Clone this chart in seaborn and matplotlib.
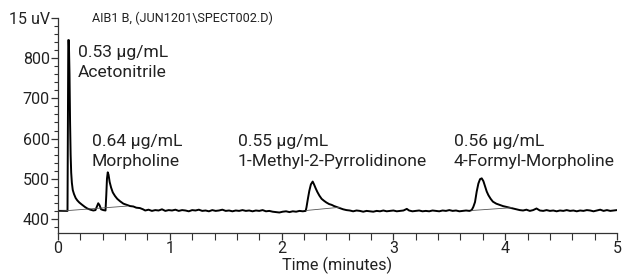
import matplotlib
matplotlib.use("Agg")
import matplotlib.pyplot as plt
from matplotlib.ticker import MultipleLocator
import pandas as pd
import seaborn as sns

# trace of the detector signal
time = [0.00, 0.04, 0.085, 0.088, 0.092, 0.097, 0.103, 0.108, 0.113, 0.118, 0.124, 0.132, 0.143, 0.158, 0.173,
        0.19, 0.212, 0.24, 0.262, 0.29, 0.316, 0.335, 0.35, 0.36, 0.372, 0.385, 0.405, 0.425, 0.432, 0.438,
        0.445, 0.452, 0.462, 0.475, 0.49, 0.51, 0.53, 0.555, 0.585, 0.614, 0.645, 0.674, 0.70, 0.733, 0.76,
        0.78, 0.81, 0.84, 0.87, 0.90, 0.93, 0.96, 0.99, 1.02, 1.05, 1.08, 1.11, 1.14, 1.17, 1.20, 1.23, 1.26,
        1.29, 1.32, 1.35, 1.38, 1.41, 1.44, 1.47, 1.50, 1.53, 1.56, 1.59, 1.62, 1.65, 1.68, 1.71, 1.74, 1.77,
        1.80, 1.83, 1.86, 1.89, 1.92, 1.95, 1.98, 2.01, 2.04, 2.07, 2.10, 2.13, 2.16, 2.19, 2.215,
        2.222, 2.235, 2.248, 2.262, 2.278, 2.29, 2.305, 2.32, 2.338, 2.358, 2.38, 2.40, 2.425, 2.448, 2.47,
        2.49, 2.52, 2.55, 2.58,
        2.61, 2.64, 2.67, 2.70, 2.73, 2.76, 2.79, 2.82, 2.85, 2.88, 2.91, 2.94, 2.97, 3.00, 3.03, 3.06, 3.09,
        3.12, 3.14, 3.17, 3.20, 3.23, 3.26, 3.29, 3.32, 3.35, 3.38, 3.41, 3.44, 3.47, 3.50, 3.53, 3.56, 3.59,
        3.62, 3.65, 3.68, 3.70,
        3.715, 3.73, 3.745, 3.76, 3.775, 3.79, 3.805, 3.82, 3.835, 3.85, 3.87, 3.89, 3.92, 3.95, 3.98, 4.01,
        4.04, 4.07, 4.10,
        4.13, 4.16, 4.19, 4.22, 4.25, 4.28, 4.31, 4.34, 4.37, 4.40, 4.43, 4.46, 4.49, 4.52, 4.55, 4.58, 4.61,
        4.64, 4.67, 4.70, 4.73, 4.76, 4.79, 4.82, 4.85, 4.88, 4.91, 4.94, 4.97, 5.00]
signal = [420, 420, 420, 600, 845, 845, 760, 640, 560, 515, 490, 472, 462, 452, 446,
          441, 436, 430, 426, 423, 421, 422, 432, 439, 434, 424, 422, 421, 460, 500,
          516, 510, 492, 478, 466, 457, 450, 444, 438, 435, 432, 431, 428, 427, 424,
          421, 423, 420, 422, 421, 424, 420, 422, 421, 423, 420, 422, 421, 419, 422, 421, 423,
          420, 421, 419, 422, 420, 421, 423, 420, 421, 419, 421, 420, 422, 420, 421, 419, 421,
          420, 422, 419, 420, 418, 417, 416, 418, 419, 417, 419, 418, 420, 419, 420,
          428, 450, 470, 486, 493, 486, 476, 467, 458, 450, 445, 441, 437, 435, 432,
          430, 427, 424, 422,
          421, 419, 421, 420, 418, 420, 419, 418, 420, 419, 421, 419, 420, 421, 419, 420, 421,
          425, 421, 419, 420, 421, 419, 420, 419, 421, 420, 419, 421, 420, 422, 420, 421, 419,
          420, 421, 420, 422,
          430, 442, 468, 488, 499, 501, 494, 481, 468, 459, 450, 443, 438, 435, 432, 430,
          428, 426, 424,
          422, 421, 423, 420, 422, 426, 421, 420, 422, 420, 421, 419, 421, 420, 422, 420, 421,
          419, 421, 420, 422, 421, 419, 421, 423, 420, 422, 420, 421, 422]

# integration baselines drawn under the peaks
base_t0 = [0.00, 2.218, 3.70]
base_y0 = [419, 421, 421]
base_t1 = [0.62, 2.52, 4.06]
base_y1 = [432, 429, 428]

# peak labels
label_t = [0.18, 0.30, 1.61, 3.54]
label_conc = ["0.53 µg/mL", "0.64 µg/mL", "0.55 µg/mL", "0.56 µg/mL"]
label_name = ["Acetonitrile", "Morpholine", "1-Methyl-2-Pyrrolidinone", "4-Formyl-Morpholine"]
label_y = [815, 593, 593, 593]

y_ticks = [400, 500, 600, 700, 800, 900]
y_ticklabels = ["400", "500", "600", "700", "800", "15 uV"]

sns.set_style("ticks")
plt.rcParams['font.family'] = ['Roboto', 'DejaVu Sans']

df = pd.DataFrame({"time": time, "signal": signal})

fig = plt.figure(figsize=(6.23, 2.8), dpi=100)
ax = fig.add_axes([58/623, 1-233/280, (617-58)/623, (233-18)/280])
sns.lineplot(data=df, x="time", y="signal", estimator=None, sort=False, color="black", linewidth=1.4, ax=ax)
for t0, y0, t1, y1 in zip(base_t0, base_y0, base_t1, base_y1):
    ax.plot([t0, t1], [y0, y1], color="#555555", linewidth=0.6)

ax.set_xlim(0, 5)
ax.set_ylim(365, 900)
ax.set_xticks([0, 1, 2, 3, 4, 5])
ax.xaxis.set_minor_locator(MultipleLocator(0.2))
ax.set_yticks(y_ticks)
ax.set_yticklabels(y_ticklabels)
ax.yaxis.set_minor_locator(MultipleLocator(20))
ax.tick_params(axis="both", which="major", labelsize=11.5, length=5, width=0.9, color="#333333", labelcolor="#222222", pad=1)
ax.tick_params(axis="y", which="minor", length=3, width=0.8, color="#333333")
ax.tick_params(axis="x", which="minor", length=5, width=0.8, color="#333333")
sns.despine(ax=ax)
ax.spines["left"].set_color("#333333")
ax.spines["bottom"].set_color("#333333")
ax.spines["left"].set_linewidth(0.9)
ax.spines["bottom"].set_linewidth(0.9)

ax.set_xlabel("Time (minutes)", fontsize=11.7, color="#222222", labelpad=0)
ax.set_ylabel("")

for t, c, n, y in zip(label_t, label_conc, label_name, label_y):
    ax.text(t, y, c, fontsize=12.6, color="#222222", va="center", ha="left")
    ax.text(t, y - 50, n, fontsize=12.6, color="#222222", va="center", ha="left")

ax.text(0.30, 900, "AIB1 B, (JUN1201\\SPECT002.D)", fontsize=9.1, color="#222222", va="center", ha="left")

fig.savefig("out.png", dpi=100)
